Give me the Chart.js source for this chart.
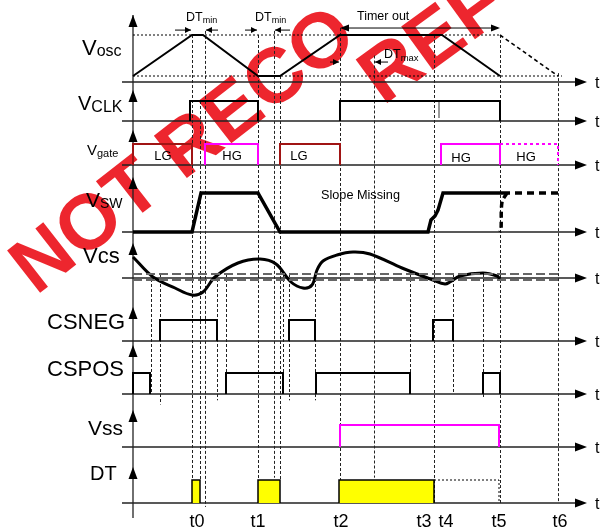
<!DOCTYPE html>
<html>
<head>
<meta charset="utf-8">
<script src="https://cdn.jsdelivr.net/npm/chart.js"></script>
<style>
html, body { margin: 0; padding: 0; background: #fff; }
#wrap { width: 601px; height: 529px; }
</style>
</head>
<body>
<div id="wrap"><canvas id="chart" width="601" height="529"></canvas></div>
<script>
var FONT = '"Liberation Sans", Arial, Helvetica, sans-serif';

// time marks (time axis units)
var tickNames = ['t0', 't1', 't2', 't3', 't4', 't5', 't6'];
var tickTimes = [64, 125, 208, 291, 313, 366, 427];

// Vosc ramp
var oscTimes = [0, 59, 70, 125, 147, 207, 309, 367];
var oscLevels = [0, 1, 1, 0, 0, 1, 1, 0];
var oscTailTimes = [367, 425];
var oscTailLevels = [1, 0];

// VCLK
var clkPulses = [[57, 125], [207, 367]];
var clkGlitch = 306;

// Vgate
var lgPulses = [[0, 59], [147, 207]];
var hgPulses = [[72, 125], [308, 367]];
var hgMissed = [[367, 425]];

// VSW
var swTimes = [0, 59, 68, 125, 147, 295, 298, 302, 305, 310, 370];
var swLevels = [0, 0, 1, 1, 0, 0, 0.31, 0.41, 0.56, 1, 1];
var swTailTimes = [370, 425];
var swTailLevels = [1, 1];
var swDropTimes = [374, 369, 368, 367];
var swDropLevels = [1, 0.77, 0.05, 0];

// Vcs
var csTimes = [0, 20, 42, 59, 70, 82, 105, 127, 143, 158, 170, 179, 184, 190, 204, 220, 237, 269, 300, 312, 317, 327, 350, 364, 367];
var csLevels = [1.05, 0.05, -0.5, -0.85, -0.7, 0.05, 0.75, 0.95, 0.7, -0.2, -0.5, -0.35, 0.4, 0.85, 1.15, 1.3, 1.2, 0.5, -0.1, -0.3, -0.2, 0.1, 0.25, 0.1, -0.05];
var csLimits = [0.2, -0.1];

// comparator outputs
var negPulses = [[27, 84], [156, 182], [300, 320]];
var posPulses = [[0, 17], [93, 150], [183, 277], [350, 367]];

// Vss and dead time
var ssPulses = [[207, 366]];
var dtPulses = [[59, 67], [125, 147], [206, 301]];
var dtTimeout = [[301, 366]];

// vertical guide lines: time, from row/level, to row/level
var guides = [
  [18, 'cs', 0.2, 'pos', 0], [27, 'cs', 0.2, 'pos', -0.5], [59, 'osc', 1, 'dt', 0],
  [67, 'clk', 1, 'dt', 1], [72, 'osc', 1.1, 'dt', -0.17], [84, 'cs', 0.2, 'pos', -0.3],
  [93, 'cs', 0.2, 'pos', 0], [125, 'osc', 1, 'dt', 1], [141, 'osc', 1.1, 'dt', 1.1],
  [147, 'osc', 0, 'dt', 1], [150, 'cs', 0.2, 'pos', 0], [156, 'cs', 0.2, 'pos', -0.3],
  [182, 'cs', 0.2, 'pos', -0.3], [207, 'osc', 1.17, 'dt', 0], [241, 'osc', 0.5, 'dt', 1.1],
  [277, 'cs', 0.2, 'pos', 0], [301, 'osc', 1, 'dt', 0], [320, 'cs', 0.2, 'pos', 0],
  [350, 'cs', 0.2, 'pos', -0.2], [367, 'osc', 1, 'dt', 0], [425, 'osc', 0.07, 'dt', 0]
];

// row layout in canvas pixels: level 0, level 1, time axis, arrow tip
var H = 529;
var rows = [
  {id: 'osc', lo: 76, hi: 35, axis: 82, arrow: 15},
  {id: 'clk', lo: 121, hi: 101, axis: 121, arrow: 90},
  {id: 'gate', lo: 165, hi: 144, axis: 165, arrow: 130},
  {id: 'sw', lo: 232, hi: 193, axis: 232, arrow: 177},
  {id: 'cs', lo: 278, hi: 258, axis: 278, arrow: 243},
  {id: 'neg', lo: 341, hi: 320, axis: 341, arrow: 307},
  {id: 'pos', lo: 394, hi: 373, axis: 394, arrow: 345},
  {id: 'ss', lo: 447, hi: 425, axis: 447, arrow: 410},
  {id: 'dt', lo: 503, hi: 480, axis: 503, arrow: 467}
];

function pts(ts, vs) {
  return ts.map(function (t, i) { return {x: t, y: vs[i]}; });
}
function pulse(p) {
  return [{x: p[0], y: 0}, {x: p[0], y: 1}, {x: p[1], y: 1}, {x: p[1], y: 0}];
}
function ds(axis, data, color, width, dash, extra) {
  var d = {
    data: data, yAxisID: axis, showLine: true, borderColor: color,
    borderWidth: width, borderDash: dash || [], pointRadius: 0, fill: false,
    tension: 0, borderJoinStyle: 'miter'
  };
  if (extra) { for (var k in extra) d[k] = extra[k]; }
  return d;
}

var datasets = [];
datasets.push(ds('osc', [{x: 0, y: 1}, {x: 367, y: 1}], '#000', 1, [2, 2]));
datasets.push(ds('osc', [{x: 0, y: 0}, {x: 429, y: 0}], '#000', 1, [2, 2]));
datasets.push(ds('osc', pts(oscTimes, oscLevels), '#000', 2));
datasets.push(ds('osc', pts(oscTailTimes, oscTailLevels), '#000', 1.6, [4, 3]));
clkPulses.forEach(function (p) { datasets.push(ds('clk', pulse(p), '#000', 2)); });
datasets.push(ds('clk', [{x: clkGlitch, y: 1}, {x: clkGlitch, y: 0.15}], '#999', 2));
lgPulses.forEach(function (p) { datasets.push(ds('gate', pulse(p), '#a01414', 2)); });
hgPulses.forEach(function (p) { datasets.push(ds('gate', pulse(p), '#ff00ff', 2)); });
hgMissed.forEach(function (p) {
  datasets.push(ds('gate', [{x: p[0], y: 1}, {x: p[1], y: 1}, {x: p[1], y: 0}], '#ff00ff', 2, [3, 3]));
});
datasets.push(ds('sw', pts(swTimes, swLevels), '#000', 3.5));
datasets.push(ds('sw', pts(swTailTimes, swTailLevels), '#000', 3.5, [7, 5]));
datasets.push(ds('sw', pts(swDropTimes, swDropLevels), '#000', 3.5, [6, 4], {tension: 0.3}));
csLimits.forEach(function (v) {
  datasets.push(ds('cs', [{x: 0, y: v}, {x: 425, y: v}], '#666', 2, [9, 4]));
});
datasets.push(ds('cs', pts(csTimes, csLevels), '#000', 3, [], {tension: 0.35}));
negPulses.forEach(function (p) { datasets.push(ds('neg', pulse(p), '#000', 2)); });
posPulses.forEach(function (p) { datasets.push(ds('pos', pulse(p), '#000', 2)); });
ssPulses.forEach(function (p) { datasets.push(ds('ss', pulse(p), '#ff00ff', 2)); });
dtPulses.forEach(function (p) {
  datasets.push(ds('dt', pulse(p), '#000', 1.5, [], {fill: 'origin', backgroundColor: '#ffff00'}));
});
dtTimeout.forEach(function (p) {
  datasets.push(ds('dt', [{x: p[0], y: 1}, {x: p[1], y: 1}, {x: p[1], y: 0}], '#000', 1, [2, 2]));
});

var scales = {x: {type: 'linear', display: false, min: -133, max: 468}};
rows.forEach(function (r) {
  var u = r.lo - r.hi;
  scales[r.id] = {type: 'linear', display: false, min: (r.lo - H) / u, max: r.lo / u};
});
function lvl(r, px) { return (r.lo - px) / (r.lo - r.hi); }

function arrowHead(ctx, x, y, dx, dy, len, half) {
  ctx.beginPath();
  ctx.moveTo(x, y);
  ctx.lineTo(x - dx * len - dy * half, y - dy * len + dx * half);
  ctx.lineTo(x - dx * len + dy * half, y - dy * len - dx * half);
  ctx.closePath();
  ctx.fill();
}
function txt(ctx, s, x, y, size, align, weight) {
  ctx.font = (weight || 'normal') + ' ' + size + 'px ' + FONT;
  ctx.textAlign = align || 'left';
  ctx.fillText(s, x, y);
  return ctx.measureText(s).width;
}
function sub(ctx, main, small, x, y, big, little, dy) {
  var w = txt(ctx, main, x, y, big);
  txt(ctx, small, x + w, y + dy, little);
}

var diagram = {
  id: 'diagram',
  beforeDatasetsDraw: function (chart) {
    var ctx = chart.ctx;
    var X = function (t) { return chart.scales.x.getPixelForValue(t); };
    var Y = function (id, v) { return chart.scales[id].getPixelForValue(v); };
    ctx.save();
    // watermark
    ctx.fillStyle = 'rgba(236, 20, 28, 0.92)';
    ctx.textBaseline = 'alphabetic';
    ctx.save();
    ctx.translate(36, 296);
    ctx.rotate(-38 * Math.PI / 180);
    txt(ctx, 'NOT RECO', 0, 0, 78, 'left', 'bold');
    ctx.restore();
    ctx.save();
    ctx.translate(383, 106);
    ctx.rotate(-36 * Math.PI / 180);
    txt(ctx, 'REF', 0, 0, 78, 'left', 'bold');
    ctx.restore();

    // guides
    ctx.strokeStyle = '#222';
    ctx.lineWidth = 1;
    ctx.setLineDash([3, 2]);
    guides.forEach(function (g) {
      var x = Math.round(X(g[0])) + 0.5;
      ctx.beginPath();
      ctx.moveTo(x, Y(g[1], g[2]));
      ctx.lineTo(x, Y(g[3], g[4]));
      ctx.stroke();
    });
    ctx.setLineDash([]);

    // axes
    ctx.strokeStyle = '#222';
    ctx.fillStyle = '#000';
    ctx.lineWidth = 1.3;
    var x0 = X(0);
    ctx.beginPath();
    ctx.moveTo(x0, Y('osc', lvl(rows[0], rows[0].arrow)));
    ctx.lineTo(x0, Y('dt', -0.65));
    ctx.stroke();
    rows.forEach(function (r) {
      var ya = Y(r.id, lvl(r, r.axis));
      ctx.beginPath();
      ctx.moveTo(X(-11), ya);
      ctx.lineTo(X(447), ya);
      ctx.stroke();
      arrowHead(ctx, X(454), ya, 1, 0, 12, 4.5);
      arrowHead(ctx, x0, Y(r.id, lvl(r, r.arrow)), 0, -1, 12, 4.5);
      txt(ctx, 't', X(462), ya + 6, 16);
    });
    ctx.restore();
  },
  afterDatasetsDraw: function (chart) {
    var ctx = chart.ctx;
    var X = function (t) { return chart.scales.x.getPixelForValue(t); };
    var Y = function (id, v) { return chart.scales[id].getPixelForValue(v); };
    ctx.save();
    ctx.fillStyle = '#000';
    ctx.strokeStyle = '#000';
    ctx.textBaseline = 'alphabetic';

    // row labels
    sub(ctx, 'V', 'osc', 82, 55, 22, 16, 1);
    sub(ctx, 'V', 'CLK', 78, 110, 20, 16, 2);
    sub(ctx, 'V', 'gate', 87, 155, 15, 11, 2);
    sub(ctx, 'V', 'SW', 86, 207, 21, 14, 1);
    txt(ctx, 'Vcs', 83, 263, 22);
    txt(ctx, 'CSNEG', 47, 329, 22);
    txt(ctx, 'CSPOS', 47, 376, 22);
    txt(ctx, 'Vss', 88, 435, 21);
    txt(ctx, 'DT', 90, 480, 20);

    // time marks
    tickNames.forEach(function (n, i) {
      txt(ctx, n, X(tickTimes[i]), 527, 18, 'center');
    });

    // gate labels
    txt(ctx, 'LG', X(30), Y('gate', 0.24), 13, 'center');
    txt(ctx, 'HG', X(99), Y('gate', 0.24), 13, 'center');
    txt(ctx, 'LG', X(166), Y('gate', 0.24), 13, 'center');
    txt(ctx, 'HG', X(328), Y('gate', 0.14), 13, 'center');
    txt(ctx, 'HG', X(393), Y('gate', 0.2), 13, 'center');

    txt(ctx, 'Slope Missing', X(188), Y('sw', 0.84), 12.7);

    // dead-time and timer annotations
    ctx.lineWidth = 1;
    var ya = Y('osc', 1.12);
    function hArrow(from, to, y) {
      var a = X(from), b = X(to);
      ctx.beginPath();
      ctx.moveTo(a, y);
      ctx.lineTo(b, y);
      ctx.stroke();
      arrowHead(ctx, b, y, b > a ? 1 : -1, 0, 6, 3);
    }
    hArrow(42, 58, ya);
    hArrow(85, 73, ya);
    hArrow(112, 124, ya);
    hArrow(157, 142, ya);
    sub(ctx, 'DT', 'min', 186, 21, 12.5, 9, 2);
    sub(ctx, 'DT', 'min', 255, 21, 12.5, 9, 2);

    var yt = Y('osc', 1.17);
    ctx.beginPath();
    ctx.moveTo(X(209), yt);
    ctx.lineTo(X(365), yt);
    ctx.stroke();
    arrowHead(ctx, X(207), yt, -1, 0, 9, 3.5);
    arrowHead(ctx, X(367), yt, 1, 0, 9, 3.5);
    txt(ctx, 'Timer out', 357, 20, 12.5);

    var ym = Y('osc', 0.34);
    hArrow(197, 206, ym);
    hArrow(255, 242, ym);
    sub(ctx, 'DT', 'max', 384, 58, 12.5, 9.5, 3);
    ctx.restore();
  }
};

new Chart(document.getElementById('chart').getContext('2d'), {
  type: 'scatter',
  data: {datasets: datasets},
  options: {
    responsive: false,
    devicePixelRatio: 1,
    animation: false,
    events: [],
    layout: {padding: 0},
    scales: scales,
    plugins: {legend: {display: false}, tooltip: {enabled: false}, title: {display: false}}
  },
  plugins: [diagram]
});
</script>
</body>
</html>
